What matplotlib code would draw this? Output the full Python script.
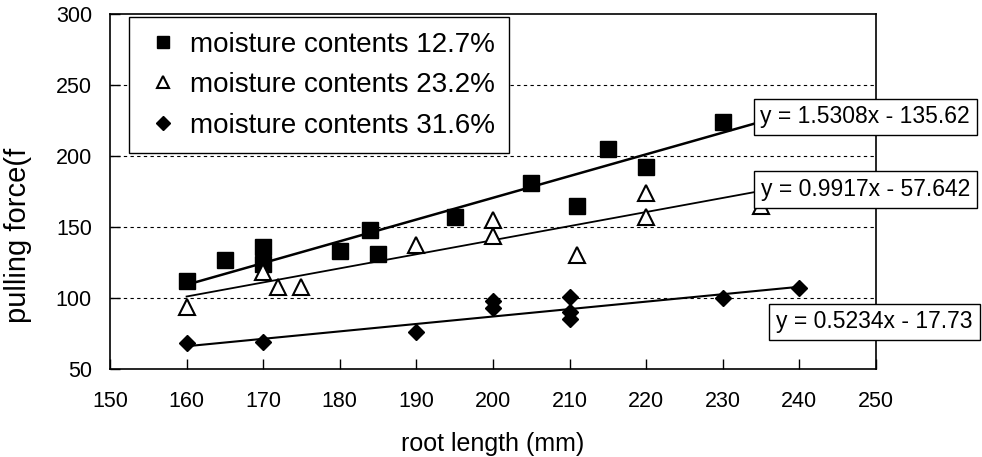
import matplotlib
matplotlib.use("Agg")
import matplotlib.pyplot as plt
import numpy as np

plt.rcParams["font.family"] = ["Liberation Sans", "DejaVu Sans"]

# --- data ---
series_labels = [
    "moisture contents 12.7%",
    "moisture contents 23.2%",
    "moisture contents 31.6%",
]

mc127_x = [160, 165, 170, 170, 180, 184, 185, 195, 205, 211, 215, 220, 230]
mc127_y = [112, 127, 136, 124, 133, 148, 131, 157, 181, 165, 205, 192, 224]

mc232_x = [160, 170, 172, 175, 190, 200, 200, 211, 220, 220, 235]
mc232_y = [94, 118, 108, 108, 137, 155, 144, 130, 174, 157, 165]

mc316_x = [160, 170, 190, 200, 200, 210, 210, 210, 230, 240]
mc316_y = [68, 69, 76, 98, 93, 101, 90, 85, 100, 107]

slopes = [1.5308, 0.9917, 0.5234]
intercepts = [-135.62, -57.642, -17.73]
trend_start = [160, 160, 160]
trend_end = [235, 235, 240]
equation_text = ["y = 1.5308x - 135.62", "y = 0.9917x - 57.642", "y = 0.5234x - 17.73"]
equation_x = [248.6, 248.6, 249.8]
equation_y = [227.5, 176.4, 83.1]

x_ticks = [150, 160, 170, 180, 190, 200, 210, 220, 230, 240, 250]
y_ticks = [50, 100, 150, 200, 250, 300]


def main() -> None:
    fig = plt.figure(figsize=(9.82, 4.57), dpi=100)
    ax = fig.add_axes([0.112, 0.1926, 0.780, 0.7768])

    for y in y_ticks[1:-1]:
        ax.axhline(y, color="black", lw=0.8, ls=(0, (3, 3)), zorder=1)

    styles = [
        dict(marker="s", ms=11, mfc="black", mec="black", mew=1),
        dict(marker="^", ms=11, mfc="white", mec="black", mew=1.5),
        dict(marker="D", ms=8, mfc="black", mec="black", mew=1),
    ]
    line_widths = [1.8, 1.3, 1.5]
    xs = [mc127_x, mc232_x, mc316_x]
    ys = [mc127_y, mc232_y, mc316_y]

    for i in range(3):
        ax.plot(xs[i], ys[i], ls="none", label=series_labels[i], zorder=3, **styles[i])
        tx = np.array([trend_start[i], trend_end[i]])
        ax.plot(tx, slopes[i] * tx + intercepts[i], color="black", lw=line_widths[i], zorder=2)
        ax.text(
            equation_x[i], equation_y[i], equation_text[i],
            ha="center", va="center", fontsize=16.5, zorder=5, clip_on=False,
            bbox=dict(boxstyle="square,pad=0.3", fc="white", ec="black", lw=1),
        )

    ax.set_xlim(150, 250)
    ax.set_ylim(50, 300)
    ax.set_xticks(x_ticks)
    ax.set_yticks(y_ticks)
    ax.tick_params(direction="in", length=7, width=1, labelsize=15.5)
    ax.tick_params(axis="x", pad=16)
    ax.tick_params(axis="y", pad=13)
    for spine in ax.spines.values():
        spine.set_linewidth(1.2)

    ax.set_xlabel("root length (mm)", fontsize=18, labelpad=14)
    ax.set_ylabel("pulling force(f", fontsize=21)
    ax.yaxis.set_label_coords(-0.102, 0.375)

    leg = ax.legend(
        loc="upper left", bbox_to_anchor=(0.0248, 0.9915), fontsize=20,
        frameon=True, fancybox=False, shadow=False, borderaxespad=0,
        handlelength=1.4, handletextpad=0.25, labelspacing=0.52, borderpad=0.53,
        markerscale=0.85,
    )
    leg.get_frame().set_edgecolor("black")
    leg.get_frame().set_linewidth(1)
    leg.get_frame().set_alpha(1)
    leg.set_zorder(6)

    fig.savefig("out.png", dpi=100)
    plt.close(fig)


if __name__ == "__main__":
    main()
